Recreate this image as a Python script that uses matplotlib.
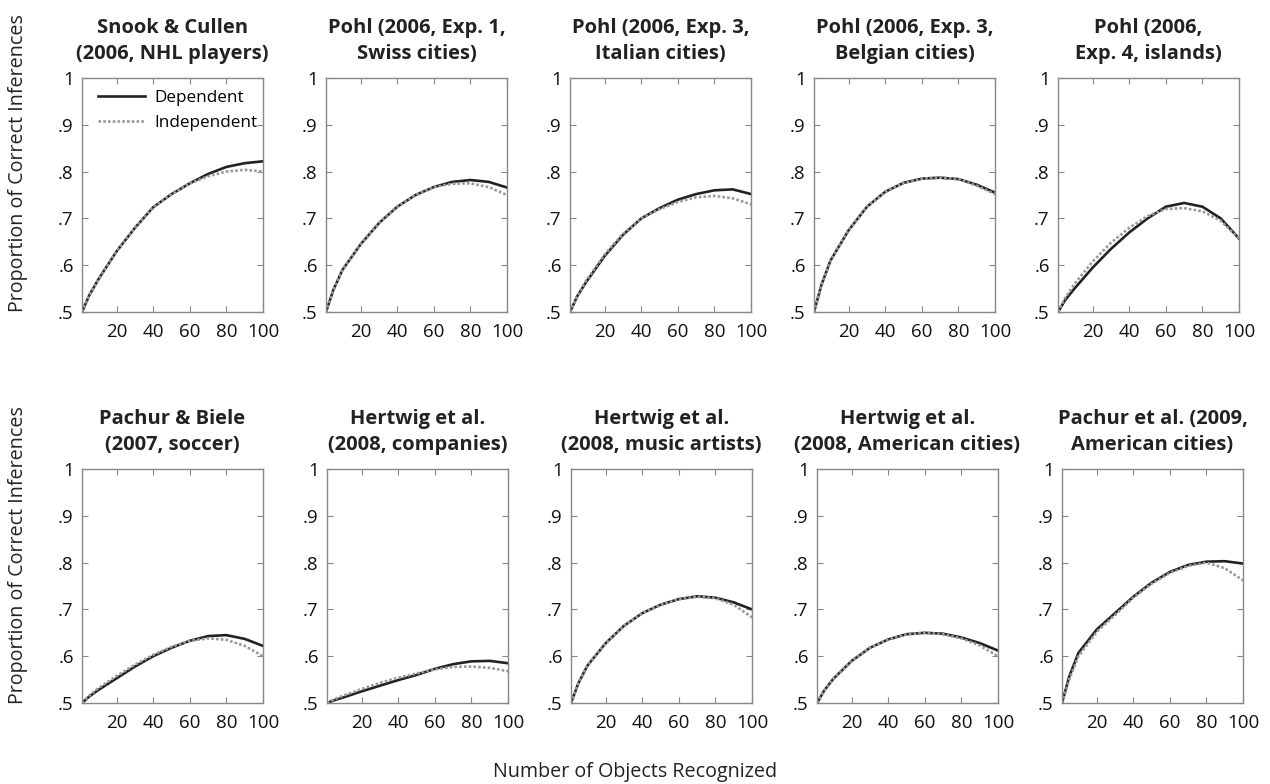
import matplotlib
matplotlib.use("Agg")
import matplotlib.pyplot as plt

plt.rcParams['font.family'] = ['Open Sans', 'DejaVu Sans']

# number of objects recognized (x positions)
x = [1, 5, 10, 20, 30, 40, 50, 60, 70, 80, 90, 100]

titles = [
    "Snook & Cullen\n(2006, NHL players)",
    "Pohl (2006, Exp. 1,\nSwiss cities)",
    "Pohl (2006, Exp. 3,\nItalian cities)",
    "Pohl (2006, Exp. 3,\nBelgian cities)",
    "Pohl (2006,\nExp. 4, islands)",
    "Pachur & Biele\n(2007, soccer)",
    "Hertwig et al.\n(2008, companies)",
    "Hertwig et al.\n(2008, music artists)",
    "Hertwig et al.\n(2008, American cities)",
    "Pachur et al. (2009,\nAmerican cities)",
]

dependent = [
    [.50, .536, .57, .63, .68, .724, .752, .775, .795, .81, .818, .822],
    [.50, .547, .59, .645, .69, .725, .75, .767, .778, .782, .778, .766],
    [.50, .534, .565, .62, .665, .70, .722, .74, .752, .76, .762, .752],
    [.50, .557, .61, .675, .725, .757, .776, .785, .787, .784, .772, .755],
    [.50, .526, .55, .595, .635, .67, .70, .725, .733, .725, .70, .657],
    [.50, .514, .528, .553, .578, .60, .618, .633, .643, .645, .637, .622],
    [.50, .506, .512, .525, .537, .549, .56, .573, .583, .589, .59, .585],
    [.50, .542, .58, .628, .665, .692, .71, .722, .728, .725, .715, .70],
    [.50, .527, .552, .59, .618, .636, .647, .65, .648, .64, .628, .612],
    [.50, .557, .607, .657, .692, .727, .757, .78, .795, .802, .803, .798],
]

independent = [
    [.50, .536, .57, .63, .68, .724, .752, .775, .79, .80, .804, .80],
    [.50, .547, .59, .645, .69, .725, .75, .767, .774, .775, .767, .75],
    [.50, .535, .568, .623, .667, .70, .72, .735, .745, .748, .743, .73],
    [.50, .557, .61, .675, .725, .757, .776, .785, .787, .784, .77, .752],
    [.50, .531, .56, .608, .648, .68, .705, .72, .722, .715, .695, .657],
    [.50, .516, .532, .558, .582, .603, .62, .633, .638, .635, .622, .60],
    [.50, .508, .516, .53, .543, .554, .563, .572, .577, .578, .575, .568],
    [.50, .542, .58, .628, .665, .692, .71, .722, .727, .724, .71, .683],
    [.50, .527, .552, .59, .618, .636, .647, .65, .647, .638, .623, .60],
    [.50, .551, .60, .652, .688, .725, .755, .778, .793, .80, .788, .762],
]

yticks = [.5, .6, .7, .8, .9, 1]
ytick_labels = [".5", ".6", ".7", ".8", ".9", "1"]
xticks = [20, 40, 60, 80, 100]

W, H = 1270, 784
fig = plt.figure(figsize=(W / 100, H / 100), dpi=100)

# pixel layout of the panels
lefts_top = [82, 326, 570, 814, 1058]
lefts_bot = [82, 327, 571, 817, 1062]
pw, ph = 181, 234
tops = [78, 469]

for i in range(10):
    row, col = divmod(i, 5)
    left = (lefts_top if row == 0 else lefts_bot)[col]
    top = tops[row]
    ax = fig.add_axes([left / W, 1 - (top + ph) / H, pw / W, ph / H])
    ax.plot(x, dependent[i], color='#222222', lw=1.9, label='Dependent')
    ax.plot(x, independent[i], color='#999999', lw=1.9, ls=(0, (1, 0.8)),
            label='Independent')
    ax.set_xlim(1, 100)
    ax.set_ylim(.5, 1)
    ax.set_xticks(xticks)
    ax.set_yticks(yticks)
    ax.set_yticklabels(ytick_labels)
    ax.tick_params(direction='in', top=True, right=True, length=4,
                   color='#888888', labelsize=13.5, pad=6, labelcolor='#111111')
    ax.tick_params(axis='x', pad=8)
    for s in ax.spines.values():
        s.set_color('#888888')
        s.set_linewidth(1)
    ax.set_title(titles[i], fontsize=14.5, fontweight='bold', pad=14,
                 linespacing=1.35, color='#222222')
    if i == 0:
        ax.legend(loc='upper left', frameon=False, fontsize=12.3,
                  handlelength=2.8, handletextpad=0.5, borderaxespad=0.3,
                  labelspacing=0.55, bbox_to_anchor=(0.02, 1.0))

for yc in [163, 555]:
    fig.text(18 / W, 1 - yc / H, "Proportion of Correct Inferences",
             fontsize=14.2, rotation=90, ha='center', va='center',
             color='#222222')

fig.text(635 / W, 1 - 772 / H, "Number of Objects Recognized", fontsize=14.2,
         ha='center', va='center', color='#222222')

fig.savefig("out.png", dpi=100)
